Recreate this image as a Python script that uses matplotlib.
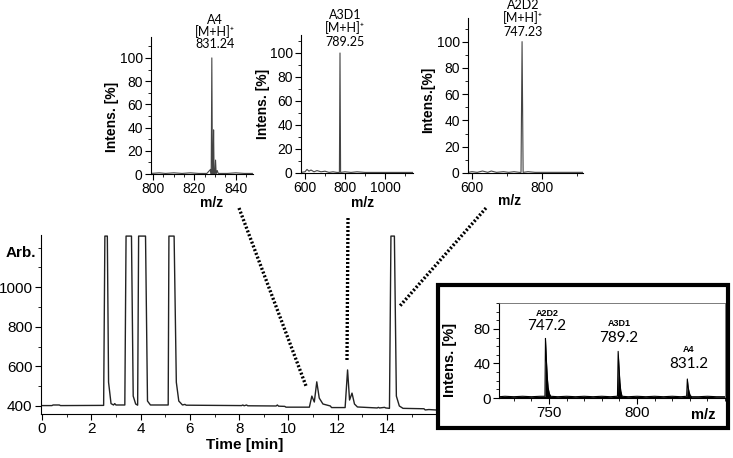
import matplotlib
matplotlib.use("Agg")
import matplotlib.pyplot as plt
from matplotlib.patches import Rectangle
from matplotlib.lines import Line2D
from matplotlib.ticker import MultipleLocator

plt.rcParams['font.family'] = ['Liberation Sans', 'DejaVu Sans']

# chromatogram (time [min], signal); flat tops are detector saturation
chrom_t = [0, 0.4, 0.45, 0.7, 0.75, 2.5, 2.55, 2.65, 2.7, 2.8, 2.9, 2.95, 3.0, 3.36,
           3.41, 3.63, 3.7, 3.8, 3.88, 3.92, 4.2, 4.28, 4.4, 5.12, 5.15, 5.36, 5.45,
           5.55, 5.7, 5.8, 5.85, 8.1, 8.15, 8.2, 8.3, 8.35, 9.5, 9.55, 9.6, 9.85, 9.9,
           10.85, 10.95, 11.05, 11.15, 11.25, 11.4, 11.7, 11.75, 12.3, 12.4, 12.48,
           12.58, 12.68, 12.8, 13.6, 13.65, 13.7, 13.9, 13.95, 14.1, 14.16, 14.3,
           14.38, 14.5, 14.65, 15.5, 15.55, 15.7, 16.5]
chrom_i = [402, 402, 405, 405, 402, 403, 1258, 1258, 520, 412, 405, 412, 405, 405,
           1258, 1258, 450, 410, 404, 1258, 1258, 425, 405, 405, 1258, 1258, 520,
           425, 405, 408, 404, 402, 405, 401, 405, 401, 400, 405, 399, 398, 394,
           394, 450, 420, 522, 440, 410, 400, 392, 392, 582, 430, 465, 410, 395,
           390, 393, 390, 393, 390, 388, 1258, 1258, 450, 400, 388, 386, 380,
           382, 376]

# single-compound spectra (m/z, relative intensity %)
a4_mz = [799, 803, 806, 810, 814, 818, 822, 826, 827.8, 828.1, 828.4, 828.7, 829.0,
         829.25, 829.5, 829.9, 830.2, 830.5, 831.0, 831.5, 836, 840, 844, 848]
a4_int = [0.5, 1, 0.5, 1, 0.5, 1, 0.5, 0.5, 4, 0, 100, 0, 0, 38, 0, 0, 12, 0, 3, 0.5,
          0.5, 1, 0.5, 0.5]

a3d1_mz = [580, 600, 610, 620, 630, 645, 660, 680, 700, 720, 740, 760, 772, 775, 778,
           800, 830, 860, 900, 950, 1000, 1050, 1100, 1140]
a3d1_int = [0.5, 1, 3, 1.5, 2.5, 1, 2, 1, 1.5, 0.5, 1, 0.5, 0.5, 100, 0.5, 1, 0.5, 1,
            0.5, 0.5, 0.5, 0.5, 0.5, 0.5]

a2d2_mz = [589, 600, 615, 630, 645, 655, 670, 690, 705, 720, 735, 740, 743, 746, 760,
           780, 800, 830, 860, 900, 917]
a2d2_int = [0.5, 1, 0.5, 1.5, 0.5, 1.5, 0.5, 1, 0.5, 1, 0.5, 0.5, 100, 0.5, 1, 0.5,
            0.5, 0.5, 0.5, 0.5, 0.5]

# mixture spectrum
mix_mz = [721.6, 725, 730, 735, 740, 745, 747.7, 748.0, 748.5, 749.0, 749.5, 750.2, 751,
          755, 760, 765, 770, 775, 780, 785, 788.5, 788.9, 789.3, 789.8, 790.3, 790.8,
          791.5, 795, 800, 805, 810, 815, 820, 825, 828.2, 828.6, 829.1, 829.6, 830.2,
          831, 835, 840, 845, 850]
mix_int = [1.5, 2, 1.5, 2, 1.5, 2, 2, 69, 45, 25, 12, 5, 2, 1.5, 2, 1.5, 2, 1.5, 2, 1.5,
           2, 2, 54, 35, 18, 8, 2, 1.5, 2, 1.5, 2, 1.5, 2, 1.5, 2, 22, 12, 7, 3, 1.5, 1.5,
           2, 1.5, 1.5]

W, H = 733, 458
fig = plt.figure(figsize=(W / 100, H / 100), dpi=100)


def ax_px(x0, y0, x1, y1, **kw):
    return fig.add_axes([x0 / W, 1 - y1 / H, (x1 - x0) / W, (y1 - y0) / H], **kw)


def ftext(x, y, s, **kw):
    fig.text(x / W, 1 - y / H, s, ha='center', va='center', **kw)


def style(ax, fs=10):
    for s in ['top', 'right']:
        ax.spines[s].set_visible(False)
    ax.tick_params(which='major', length=4, width=0.8, labelsize=fs, pad=2)
    ax.tick_params(which='minor', length=2.5, width=0.6)


# main chromatogram
ax = ax_px(40.8, 234.7, 448.6, 413.9)
ax.plot(chrom_t, chrom_i, color='#222222', lw=1.0)
ax.set_xlim(-0.05, 16.5)
ax.set_ylim(360, 1265)
ax.set_xticks([0, 2, 4, 6, 8, 10, 12, 14])
ax.set_yticks([400, 600, 800, 1000])
ax.xaxis.set_minor_locator(MultipleLocator(1))
ax.yaxis.set_minor_locator(MultipleLocator(100))
style(ax, 11)
ax.set_xlabel('Time [min]', fontsize=11, fontweight='bold', labelpad=1)
ftext(21, 253, 'Arb.', fontsize=11, fontweight='bold')

# top spectra insets
insets = [
    (a4_mz, a4_int, (151, 37, 253, 174), (799, 848.3), (0, 118), [800, 820, 840], 5,
     (215, ['A4', '[M+H]⁺', '831.24'], (20, 32, 44)), (112, 117, 'Intens. [%]'), (212, 203)),
    (a3d1_mz, a3d1_int, (301, 35, 413, 173), (580, 1140), (0, 115), [600, 800, 1000], 100,
     (345, ['A3D1', '[M+H]⁺', '789.25'], (15, 28, 42)), (263, 104, 'Intens. [%]'), (363, 203)),
    (a2d2_mz, a2d2_int, (468, 18, 583, 173), (588.6, 917), (0, 118), [600, 800], 100,
     (523, ['A2D2', '[M+H]⁺', '747.23'], (5, 18, 32)), (428, 100, 'Intens.[%]'), (510, 201)),
]
for mz, inten, box, xl, yl, xt, xminor, lab, ylab, mzpos in insets:
    a = ax_px(*box)
    a.plot(mz, inten, color='#444444', lw=0.8)
    a.set_xlim(*xl)
    a.set_ylim(*yl)
    a.set_xticks(xt)
    a.set_yticks([0, 20, 40, 60, 80, 100])
    a.xaxis.set_minor_locator(MultipleLocator(xminor))
    a.yaxis.set_minor_locator(MultipleLocator(10))
    style(a, 10)
    for s, yy in zip(lab[1], lab[2]):
        ftext(lab[0], yy, s, fontsize=9, family=['Lato', 'DejaVu Sans'])
    ftext(ylab[0], ylab[1], ylab[2], fontsize=10, fontweight='bold', rotation=90)
    ftext(mzpos[0], mzpos[1], 'm/z', fontsize=10, fontweight='bold')

# dotted connector lines
for (x0, y0), (x1, y1) in [((239, 208), (306, 386)), ((348, 218), (347, 360)),
                           ((486, 208), (399, 307))]:
    fig.add_artist(Line2D([x0 / W, x1 / W], [1 - y0 / H, 1 - y1 / H], color='black',
                          lw=2.4, ls=(0, (0.6, 0.6)), transform=fig.transFigure))

# mixture inset in framed box
fig.add_artist(Rectangle((438 / W, 1 - 428 / H), 290 / W, 143 / H, transform=fig.transFigure,
                         facecolor='white', edgecolor='black', lw=3, zorder=2))
m = ax_px(499, 303, 725, 398, zorder=3)
m.fill_between(mix_mz, mix_int, 0, color='black', lw=0)
m.plot(mix_mz, mix_int, color='black', lw=0.8)
m.set_xlim(721.6, 850)
m.set_ylim(0, 110)
m.set_xticks([750, 800])
m.set_yticks([0, 40, 80])
m.xaxis.set_minor_locator(MultipleLocator(10))
m.yaxis.set_minor_locator(MultipleLocator(10))
m.tick_params(which='major', length=4, width=0.8, labelsize=11, pad=2)
m.tick_params(which='minor', length=2.5, width=0.6)
for s in ['top', 'right']:
    m.spines[s].set_color('#666666')
    m.spines[s].set_linewidth(0.6)
for name, val, xx, y_name, y_val in [('A2D2', '747.2', 547, 314, 326),
                                      ('A3D1', '789.2', 619, 323, 338),
                                      ('A4', '831.2', 689, 349, 364)]:
    ftext(xx, y_name, name, fontsize=6.5, fontweight='bold', zorder=4)
    ftext(xx, y_val, val, fontsize=11, family=['Lato', 'DejaVu Sans'], zorder=4)
ftext(450, 360, 'Intens. [%]', fontsize=10.5, fontweight='bold', rotation=90, zorder=4)
ftext(703, 415, 'm/z', fontsize=10.5, fontweight='bold', zorder=4)

fig.savefig('out.png', dpi=100)
